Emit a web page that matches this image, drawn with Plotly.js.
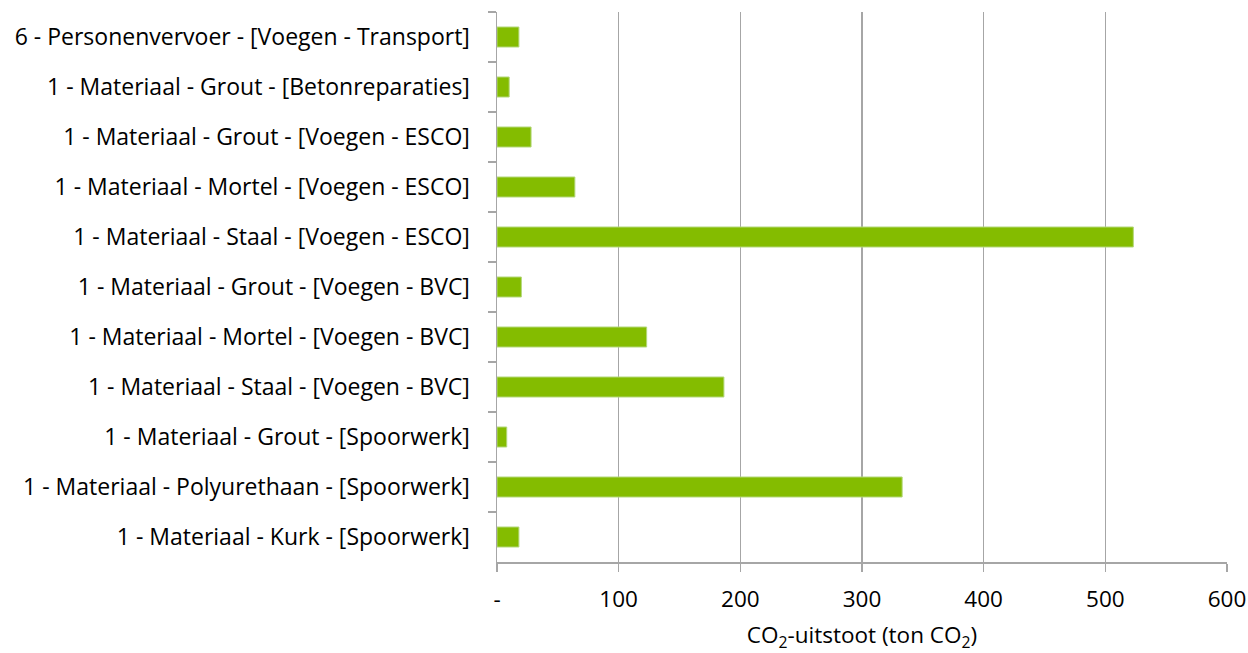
<!DOCTYPE html>
<html><head><meta charset="utf-8">
<script src="https://cdn.plot.ly/plotly-3.0.1.min.js"></script>
<style>html,body{margin:0;padding:0;background:#fff}#chart{width:1248px;height:653px}</style>
</head><body><div id="chart"></div>
<script>
const categories = [
  "6 - Personenvervoer - [Voegen - Transport]",
  "1 - Materiaal - Grout - [Betonreparaties]",
  "1 - Materiaal - Grout - [Voegen - ESCO]",
  "1 - Materiaal - Mortel - [Voegen - ESCO]",
  "1 - Materiaal - Staal - [Voegen - ESCO]",
  "1 - Materiaal - Grout - [Voegen - BVC]",
  "1 - Materiaal - Mortel - [Voegen - BVC]",
  "1 - Materiaal - Staal - [Voegen - BVC]",
  "1 - Materiaal - Grout - [Spoorwerk]",
  "1 - Materiaal - Polyurethaan - [Spoorwerk]",
  "1 - Materiaal - Kurk - [Spoorwerk]"
];
const values = [18, 10, 28, 64, 523, 20, 123, 186.5, 8, 333, 18];
const xTickVals = [0, 100, 200, 300, 400, 500, 600];
const xTickText = ["-", "100", "200", "300", "400", "500", "600"];

const fontFam = "'Open Sans', sans-serif";
const fs = 22.5;
const trace = {
  type: "bar", orientation: "h",
  y: categories, x: values,
  marker: {color: "#84bc00", line: {color: "#b3d77a", width: 1}},
  hoverinfo: "x+y"
};
const layout = {
  width: 1248, height: 653,
  margin: {l: 497, r: 21, t: 12, b: 91},
  paper_bgcolor: "#fff", plot_bgcolor: "#fff",
  font: {family: fontFam, size: fs, color: "#000"},
  bargap: 0.6,
  showlegend: false,
  xaxis: {
    range: [0, 600], tickvals: xTickVals, ticktext: xTickText,
    showgrid: true, gridcolor: "#a6a6a6", gridwidth: 1.5,
    zeroline: false, showline: true, linecolor: "#a6a6a6", linewidth: 1.5,
    ticks: "outside", ticklen: 8, tickcolor: "#a6a6a6", tickwidth: 1.5,
    ticklabelstandoff: 8,
    tickfont: {family: fontFam, size: fs, color: "#000"},
    title: {text: "CO<sub>2</sub>-uitstoot (ton CO<sub>2</sub>)", font: {family: fontFam, size: fs, color: "#000"}, standoff: 17},
    fixedrange: true
  },
  yaxis: {
    type: "category", autorange: "reversed",
    showgrid: false, zeroline: false,
    showline: true, linecolor: "#a6a6a6", linewidth: 1.5,
    ticks: "outside", tickson: "boundaries", ticklen: 8, tickcolor: "#a6a6a6", tickwidth: 1.5,
    ticklabelstandoff: 21,
    tickfont: {family: fontFam, size: 23, color: "#000"},
    fixedrange: true
  }
};
Plotly.newPlot("chart", [trace], layout, {displayModeBar: false, staticPlot: true});
</script>
</body></html>
